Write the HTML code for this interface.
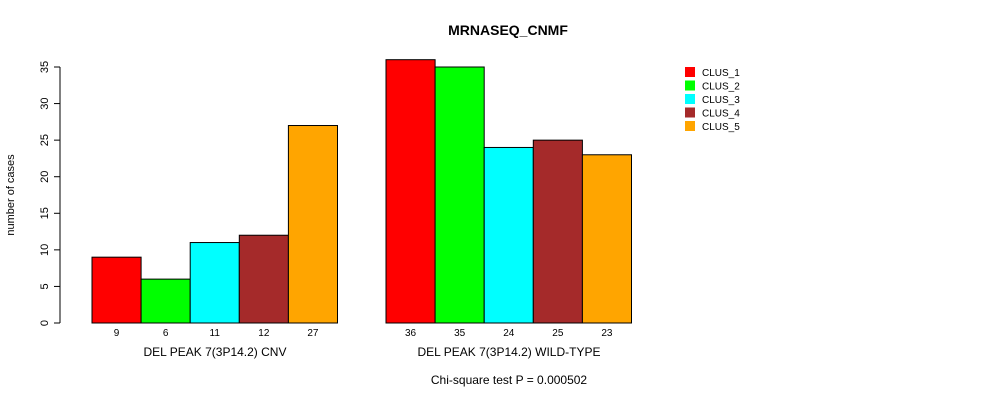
<!DOCTYPE html>
<html><head><meta charset="utf-8"><style>
body{margin:0;background:#fff}
svg text{font-family:"Liberation Sans",Arial,sans-serif}
</style></head><body>
<svg width="990" height="400" viewBox="0 0 990 400">
<text x="508" y="35" text-anchor="middle" font-size="14" font-weight="bold">MRNASEQ_CNMF</text>
<text transform="translate(14,195) rotate(-90)" text-anchor="middle" font-size="11">number of cases</text>
<g id="yaxis"></g>
<g id="bars"></g>
<text x="215" y="356" text-anchor="middle" font-size="12">DEL PEAK  7(3P14.2) CNV</text>
<text x="509" y="356" text-anchor="middle" font-size="12">DEL PEAK  7(3P14.2) WILD-TYPE</text>
<text x="509" y="384" text-anchor="middle" font-size="12">Chi-square test P = 0.000502</text>
<g id="legend"></g>
</svg>
<script>
const categories=["CLUS_1","CLUS_2","CLUS_3","CLUS_4","CLUS_5"];
const cnvValues=[9,6,11,12,27];
const wildValues=[36,35,24,25,23];
const yTicks=[0,5,10,15,20,25,30,35];
const colors=["#ff0000","#00ff00","#00ffff","#a52a2a","#ffa500"];
const NS="http://www.w3.org/2000/svg";
const y0=323, pxPer=256/35, bw=49.1;
const y=v=>y0-v*pxPer;
function mk(t,a,p){const e=document.createElementNS(NS,t);for(const k in a)e.setAttribute(k,a[k]);p.appendChild(e);return e;}
const ya=document.getElementById('yaxis');
mk('line',{x1:60,x2:60,y1:y(yTicks[0]),y2:y(yTicks[yTicks.length-1]),stroke:'#000'},ya);
yTicks.forEach(t=>{
 mk('line',{x1:54,x2:60,y1:y(t),y2:y(t),stroke:'#000'},ya);
 const tx=mk('text',{x:44,y:y(t)+4,'font-size':11,'text-anchor':'middle',transform:`rotate(-90,44,${y(t)})`},ya);
 
 
 tx.textContent=t;
});
const bg=document.getElementById('bars');
[[cnvValues,92,'cnv'],[wildValues,386,'wild-type']].forEach(([vals,x0,g])=>{
 vals.forEach((v,i)=>{
  const x=x0+i*bw;
  const r=mk('rect',{x:x,y:y(v),width:bw,height:y0-y(v),fill:colors[i],stroke:'#000','stroke-width':1},bg);
  
  
  const t=mk('text',{x:x+bw/2,y:336,'font-size':10,'text-anchor':'middle'},bg);
  
  
  t.textContent=v;
 });
});
const lg=document.getElementById('legend');
categories.forEach((c,i)=>{
 const yy=67+i*13.5;
 const r=mk('rect',{x:685,y:yy,width:10,height:10,fill:colors[i]},lg);
 
 
 const t=mk('text',{x:702,y:yy+9,'font-size':10},lg);
 
 
 t.textContent=c;
});
</script>
</body></html>
